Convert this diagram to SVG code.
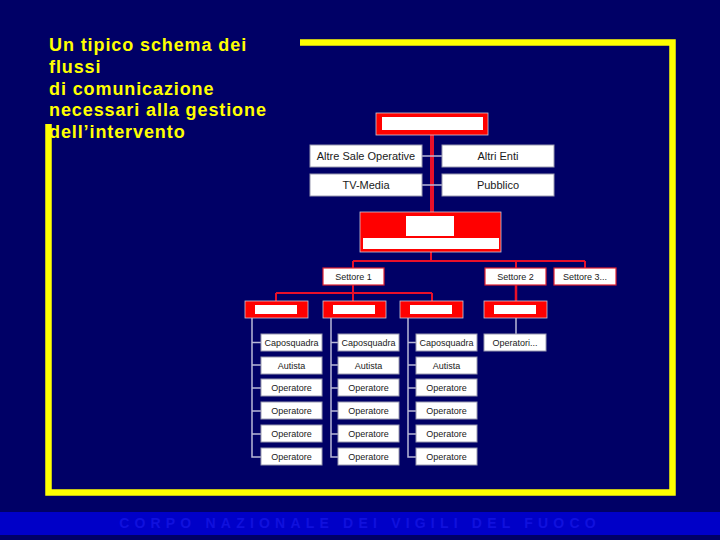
<svg xmlns="http://www.w3.org/2000/svg" width="720" height="540" viewBox="0 0 720 540">
<style>
.t{font-family:"Liberation Sans",Arial,sans-serif;fill:#1a1a1a;text-anchor:middle}
.s{font-size:11px}
.m{font-size:9px}
.wb{fill:#ffffff;stroke:#9a9ab0;stroke-width:1}
.sb{fill:#ffffff;stroke:#e02030;stroke-width:1.2}
.rb{fill:#ff0000;stroke:#c8c8d8;stroke-width:0.8}
.wi{fill:#ffffff}
.rl{stroke:#e8102a;stroke-width:2;fill:none}
.gl{stroke:#b8b8d8;stroke-width:1.5;fill:none}
</style>
<rect x="0" y="0" width="720" height="540" fill="#000066"/>
<rect x="0" y="512" width="720" height="23" fill="#0000c8"/>
<text x="360" y="528" font-family="Liberation Sans,Arial,sans-serif" font-size="14" font-weight="bold" fill="#1010dd" text-anchor="middle" letter-spacing="5.2">CORPO NAZIONALE DEI VIGILI DEL FUOCO</text>
<path d="M300,42.5 H672.5 V492.5 H48.5 V124" fill="none" stroke="#ffff00" stroke-width="6.5"/>
<g id="title" font-family="Liberation Sans,Arial,sans-serif" font-size="18" font-weight="bold" fill="#ffff00" letter-spacing="0.9">
<text x="49" y="51">Un tipico schema dei</text>
<text x="49" y="73">flussi</text>
<text x="49" y="95">di comunicazione</text>
<text x="49" y="116">necessari alla gestione</text>
<text x="49" y="138">dell’intervento</text>
</g>
<g id="connectors">
<line x1="432" y1="135" x2="432" y2="212" stroke="#e8102a" stroke-width="4"/>
<line class="gl" x1="422" y1="156" x2="442" y2="156"/>
<line class="gl" x1="422" y1="185" x2="442" y2="185"/>
<path class="rl" d="M431,252 V261 M353,261 H585 M353,261 V268 M516,261 V268 M585,261 V268"/>
<path class="rl" d="M353,285 V293 M276,293 H432 M276,293 V301 M353,293 V301 M432,293 V301"/>
<line x1="516" y1="285" x2="516" y2="301" stroke="#e8102a" stroke-width="2.5"/>
<line class="gl" x1="516" y1="318" x2="516" y2="334"/>
<path class="gl" d="M252,318 V457 H261 M252,342.5 H261 M252,365 H261 M252,388 H261 M252,411 H261 M252,434 H261"/>
<path class="gl" d="M331,318 V457 H338 M331,342.5 H338 M331,365 H338 M331,388 H338 M331,411 H338 M331,434 H338"/>
<path class="gl" d="M408,318 V457 H416 M408,342.5 H416 M408,365 H416 M408,388 H416 M408,411 H416 M408,434 H416"/>
</g>
<g id="top"><rect class="rb" x="376" y="113" width="112" height="22"/><rect class="wi" x="382" y="117" width="101" height="13"/></g>
<g id="altre-sale"><rect class="wb" x="310" y="145" width="112" height="22"/><text class="t s" x="366" y="160">Altre Sale Operative</text></g>
<g id="altri-enti"><rect class="wb" x="442" y="145" width="112" height="22"/><text class="t s" x="498" y="160">Altri Enti</text></g>
<g id="tv-media"><rect class="wb" x="310" y="174" width="112" height="22"/><text class="t s" x="366" y="189">TV-Media</text></g>
<g id="pubblico"><rect class="wb" x="442" y="174" width="112" height="22"/><text class="t s" x="498" y="189">Pubblico</text></g>
<g id="middle"><rect class="rb" x="360" y="212" width="141" height="40"/><rect class="wi" x="406" y="216" width="48" height="20"/><rect class="wi" x="363" y="238" width="136" height="11"/></g>
<g id="settore1"><rect class="sb" x="323" y="268" width="61" height="17"/><text class="t m" x="353.5" y="280">Settore 1</text></g>
<g id="settore2"><rect class="sb" x="485" y="268" width="61" height="17"/><text class="t m" x="515.5" y="280">Settore 2</text></g>
<g id="settore3"><rect class="sb" x="554" y="268" width="62" height="17"/><text class="t m" x="585" y="280">Settore 3...</text></g>
<g id="squadra1"><rect class="rb" x="245" y="301" width="63" height="17"/><rect class="wi" x="255" y="305" width="42" height="9"/></g>
<g id="squadra2"><rect class="rb" x="323" y="301" width="63" height="17"/><rect class="wi" x="333" y="305" width="42" height="9"/></g>
<g id="squadra3"><rect class="rb" x="400" y="301" width="63" height="17"/><rect class="wi" x="410" y="305" width="42" height="9"/></g>
<g id="squadra4"><rect class="rb" x="484" y="301" width="63" height="17"/><rect class="wi" x="494" y="305" width="42" height="9"/></g>
<g id="operatori"><rect class="wb" x="484" y="334" width="62" height="17"/><text class="t m" x="515" y="346">Operatori...</text></g>
<g id="col1">
<rect class="wb" x="261" y="334" width="61" height="17"/><text class="t m" x="291.5" y="346">Caposquadra</text>
<rect class="wb" x="261" y="357" width="61" height="17"/><text class="t m" x="291.5" y="369">Autista</text>
<rect class="wb" x="261" y="379" width="61" height="17"/><text class="t m" x="291.5" y="391">Operatore</text>
<rect class="wb" x="261" y="402" width="61" height="17"/><text class="t m" x="291.5" y="414">Operatore</text>
<rect class="wb" x="261" y="425" width="61" height="17"/><text class="t m" x="291.5" y="437">Operatore</text>
<rect class="wb" x="261" y="448" width="61" height="17"/><text class="t m" x="291.5" y="460">Operatore</text>
</g>
<g id="col2">
<rect class="wb" x="338" y="334" width="61" height="17"/><text class="t m" x="368.5" y="346">Caposquadra</text>
<rect class="wb" x="338" y="357" width="61" height="17"/><text class="t m" x="368.5" y="369">Autista</text>
<rect class="wb" x="338" y="379" width="61" height="17"/><text class="t m" x="368.5" y="391">Operatore</text>
<rect class="wb" x="338" y="402" width="61" height="17"/><text class="t m" x="368.5" y="414">Operatore</text>
<rect class="wb" x="338" y="425" width="61" height="17"/><text class="t m" x="368.5" y="437">Operatore</text>
<rect class="wb" x="338" y="448" width="61" height="17"/><text class="t m" x="368.5" y="460">Operatore</text>
</g>
<g id="col3">
<rect class="wb" x="416" y="334" width="61" height="17"/><text class="t m" x="446.5" y="346">Caposquadra</text>
<rect class="wb" x="416" y="357" width="61" height="17"/><text class="t m" x="446.5" y="369">Autista</text>
<rect class="wb" x="416" y="379" width="61" height="17"/><text class="t m" x="446.5" y="391">Operatore</text>
<rect class="wb" x="416" y="402" width="61" height="17"/><text class="t m" x="446.5" y="414">Operatore</text>
<rect class="wb" x="416" y="425" width="61" height="17"/><text class="t m" x="446.5" y="437">Operatore</text>
<rect class="wb" x="416" y="448" width="61" height="17"/><text class="t m" x="446.5" y="460">Operatore</text>
</g>
</svg>
